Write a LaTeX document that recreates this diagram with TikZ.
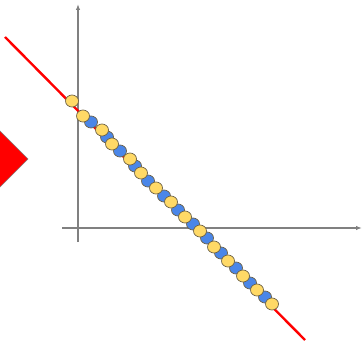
\documentclass[tikz,border=0pt]{standalone}
\usepackage{xcolor}
\usepackage{tikz}
\usetikzlibrary{arrows.meta, positioning, calc, shapes.geometric}

\definecolor{dotyellow}{HTML}{FFD966}
\definecolor{dotblue}{HTML}{4A86E8}
\definecolor{dotedge}{HTML}{6B6046}

\begin{document}
\begin{tikzpicture}[
      x=1pt, y=-1pt,
      axis/.style={draw=gray, line width=1.3pt, -{Latex[length=6pt,width=4.5pt]}},
      fitline/.style={draw=red, line width=2.4pt},
      ydot/.style={ellipse, draw=dotedge, line width=0.7pt, fill=dotyellow,
        minimum width=13pt, minimum height=12pt, inner sep=0pt},
      bdot/.style={ellipse, draw=dotedge, line width=0.7pt, fill=dotblue,
        minimum width=13pt, minimum height=12pt, inner sep=0pt},
      marker/.style={draw=gray, line width=0.6pt, fill=red}
    ]
      \useasboundingbox (0,0) rectangle (364,342);
      \clip (0,0) rectangle (364,342);
      % axes
      \coordinate (xs) at (62,228);
      \coordinate (xe) at (362,228);
      \coordinate (ys) at (78,242);
      \coordinate (ye) at (78,4);
      \draw[axis] (xs) -- (xe);
      \draw[axis] (ys) -- (ye);
      % red marker on the left edge
      \draw[marker] (28,159) -- (0,131) -- (-28,159) -- (0,187) -- cycle;
      % fitted line
      \coordinate (ls) at (5,37);
      \coordinate (le) at (305,340);
      \draw[fitline] (ls) -- (le);
      % samples
      \foreach \px/\py [count=\i] in {91/122, 107/137, 120/151, 135/166, 148/181,
          164/196, 178/210, 193/224, 207/238, 221/253, 236/268, 250/283, 265/297}
        \node[bdot] (b\i) at (\px,\py) {};
      \foreach \px/\py [count=\i] in {72/101, 83/116, 102/130, 112/144, 130/159,
          141/173, 156/188, 171/202, 185/217, 200/231, 214/247, 228/261,
          243/276, 257/290, 272/304}
        \node[ydot] (y\i) at (\px,\py) {};
    \end{tikzpicture}
\end{document}
